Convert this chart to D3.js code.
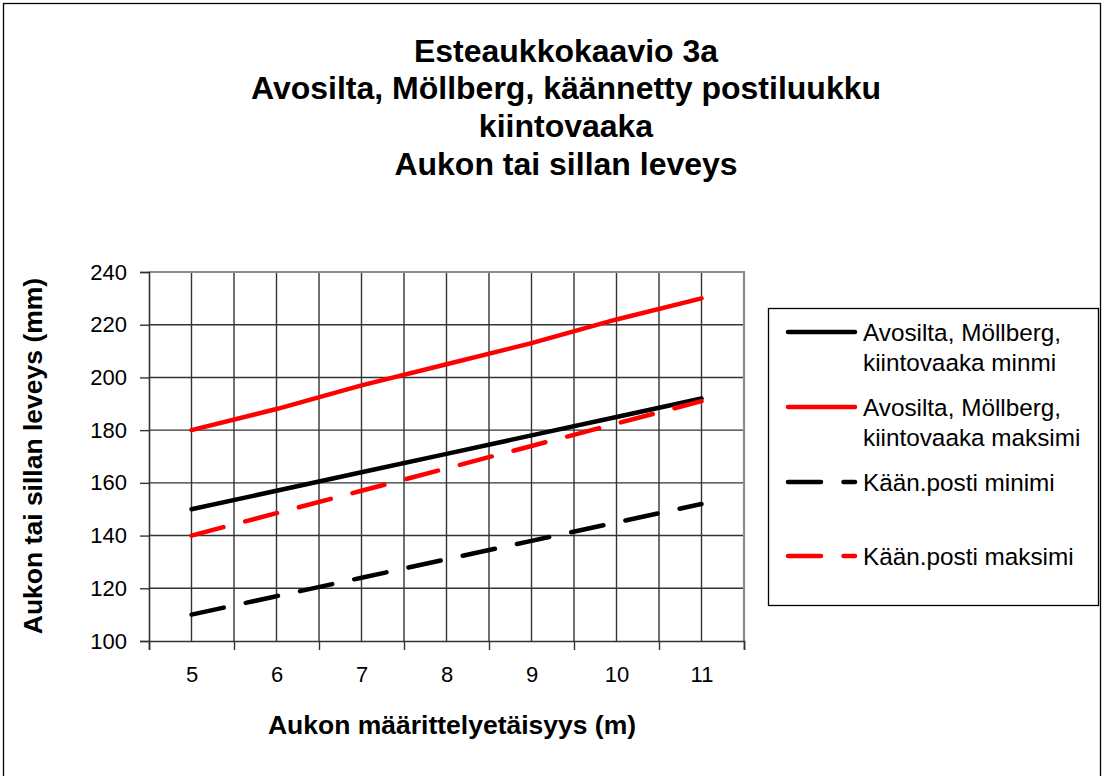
<!DOCTYPE html>
<html>
<head>
<meta charset="utf-8">
<script src="https://cdn.jsdelivr.net/npm/d3@7/dist/d3.min.js"></script>
<style>
  html, body { margin: 0; padding: 0; background: #fff; }
  svg { display: block; font-family: "Liberation Sans", Arial, sans-serif; }
</style>
</head>
<body>
<svg id="chart" width="1103" height="776"></svg>
<script>
// Distance categories (m)
const distances = [5, 6, 7, 8, 9, 10, 11];
// Opening / bridge width (mm) per series
const avoMin  = [150, 157, 164, 171, 178, 185, 192];
const avoMax  = [180, 188, 197, 205, 213, 222, 230];
const postMin = [110, 117, 124, 131, 138, 145, 152];
const postMax = [140, 148.5, 157, 165.5, 174, 182.5, 191];
const yTicks = [100, 120, 140, 160, 180, 200, 220, 240];

const titleLines = [
  "Esteaukkokaavio 3a",
  "Avosilta, Möllberg, käännetty postiluukku",
  "kiintovaaka",
  "Aukon tai sillan leveys"
];
const xTitle = "Aukon määrittelyetäisyys (m)";
const yTitle = "Aukon tai sillan leveys (mm)";

const series = [
  { name: ["Avosilta, Möllberg,", "kiintovaaka minmi"], values: avoMin, color: "#000000", dashed: false },
  { name: ["Avosilta, Möllberg,", "kiintovaaka maksimi"], values: avoMax, color: "#ff0000", dashed: false },
  { name: ["Kään.posti minimi"], values: postMin, color: "#000000", dashed: true },
  { name: ["Kään.posti maksimi"], values: postMax, color: "#ff0000", dashed: true }
];

const svg = d3.select("#chart");
const plot = { left: 149, right: 744, top: 272, bottom: 641 };

// outer frame
svg.append("rect")
  .attr("x", 3.5).attr("y", 3.5)
  .attr("width", 1097).attr("height", 820)
  .attr("fill", "none").attr("stroke", "#000").attr("stroke-width", 1.3);

const x = d3.scaleLinear().domain([4.5, 11.5]).range([plot.left, plot.right]);
const y = d3.scaleLinear().domain([100, 240]).range([plot.bottom, plot.top]);

// title
const title = svg.append("g").attr("font-weight", "bold").attr("font-size", 32).attr("text-anchor", "middle");
titleLines.forEach((t, i) => {
  title.append("text").attr("x", 566).attr("y", 61.5 + i * 37.7).text(t);
});

// grid: vertical lines every half category
const halfSteps = d3.range(5, 11.5, 0.5);
svg.append("g").selectAll("line").data(halfSteps).join("line")
  .attr("x1", d => x(d)).attr("x2", d => x(d))
  .attr("y1", plot.top).attr("y2", plot.bottom)
  .attr("stroke", "#333").attr("stroke-width", 1.4);

// grid: horizontal lines
svg.append("g").selectAll("line").data(yTicks.slice(1, -1)).join("line")
  .attr("x1", plot.left).attr("x2", plot.right)
  .attr("y1", d => y(d)).attr("y2", d => y(d))
  .attr("stroke", "#333").attr("stroke-width", 1.4);

// plot border top/right
svg.append("path")
  .attr("d", `M${plot.left},${plot.top}H${plot.right}V${plot.bottom}`)
  .attr("fill", "none").attr("stroke", "#8c8c8c").attr("stroke-width", 2.2);

// y axis
const yAxis = d3.axisLeft(y).tickValues(yTicks).tickSize(9).tickPadding(13);
const gy = svg.append("g").attr("transform", `translate(${plot.left},0)`).call(yAxis);
gy.select(".domain").attr("stroke", "#333").attr("stroke-width", 1.6);
gy.selectAll(".tick line").attr("stroke", "#333").attr("stroke-width", 1.4);
gy.selectAll(".tick text").attr("font-size", 22).attr("fill", "#000")
  .attr("font-family", "'Liberation Sans', Arial, sans-serif");

// x axis: tick marks at category boundaries, labels at category centres
const boundaries = d3.range(4.5, 12, 1);
const xAxisMarks = d3.axisBottom(x).tickValues(boundaries).tickSize(9).tickFormat("");
const gx = svg.append("g").attr("transform", `translate(0,${plot.bottom})`).call(xAxisMarks);
gx.select(".domain").attr("stroke", "#333").attr("stroke-width", 1.6);
gx.selectAll(".tick line").attr("stroke", "#333").attr("stroke-width", 1.4);

const xLabels = d3.axisBottom(x).tickValues(distances).tickSize(0).tickPadding(25).tickFormat(d3.format("d"));
const gxl = svg.append("g").attr("transform", `translate(0,${plot.bottom})`).call(xLabels);
gxl.select(".domain").remove();
gxl.selectAll(".tick text").attr("font-size", 22).attr("fill", "#000")
  .attr("font-family", "'Liberation Sans', Arial, sans-serif");

// axis titles
svg.append("text").attr("x", 452).attr("y", 734)
  .attr("text-anchor", "middle").attr("font-weight", "bold").attr("font-size", 26.5)
  .text(xTitle);
svg.append("text")
  .attr("transform", `translate(42,456) rotate(-90)`)
  .attr("text-anchor", "middle").attr("font-weight", "bold").attr("font-size", 26.5)
  .text(yTitle);

// series lines
const line = d3.line().x((d, i) => x(distances[i])).y(d => y(d));
const dash = "33,22.5";
svg.append("g").selectAll("path").data(series).join("path")
  .attr("d", s => line(s.values))
  .attr("fill", "none")
  .attr("stroke", s => s.color)
  .attr("stroke-width", 4.5)
  .attr("stroke-linecap", "round")
  .attr("stroke-dasharray", s => s.dashed ? dash : null);

// legend
const legend = svg.append("g");
legend.append("rect")
  .attr("x", 768.5).attr("y", 308.5).attr("width", 330).attr("height", 297)
  .attr("fill", "#fff").attr("stroke", "#000").attr("stroke-width", 1.3);
const rowY = [332, 407, 482, 556];
series.forEach((s, i) => {
  const ry = rowY[i];
  legend.append("line")
    .attr("x1", 788).attr("x2", 855).attr("y1", ry).attr("y2", ry)
    .attr("stroke", s.color).attr("stroke-width", 4.5)
    .attr("stroke-linecap", "round")
    .attr("stroke-dasharray", s.dashed ? dash : null);
  s.name.forEach((t, j) => {
    legend.append("text")
      .attr("x", 863).attr("y", ry + 8.5 + j * 30)
      .attr("font-size", 24.3).attr("fill", "#000")
      .text(t);
  });
});
</script>
</body>
</html>
